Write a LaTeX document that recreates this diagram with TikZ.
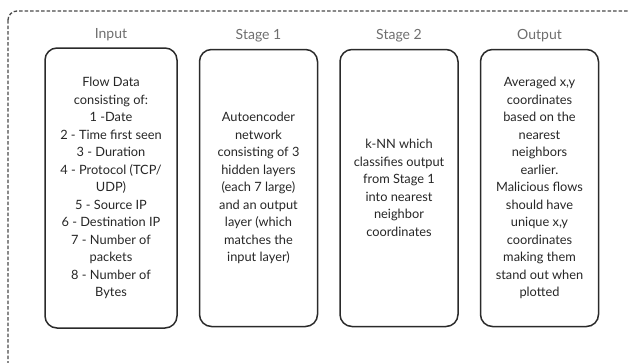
\documentclass[tikz,border=0pt]{standalone}
\usepackage{fontspec}
\setmainfont{Lato}
\usepackage{tikz}
\usetikzlibrary{positioning}

\definecolor{boxline}{HTML}{2A2A2A}
\definecolor{boxtext}{HTML}{262626}
\definecolor{headtext}{HTML}{6E6E6E}
\definecolor{frameline}{HTML}{4A4A4A}

\begin{document}
\begin{tikzpicture}[
                stagebox/.style={draw=boxline, line width=1.5pt, rounded corners=12pt,
                               minimum width=118pt, minimum height=277pt, align=center,
                               text=boxtext, inner sep=2pt,
                               font=\fontsize{12.8}{17.5}\selectfont},
                header/.style={text=headtext, font=\fontsize{14}{16}\selectfont},
                node distance=21pt]

                % fixed page size like the reference
                \useasboundingbox (0pt,0pt) rectangle (629pt,-362pt);

                % dashed outer frame, cut off at the right and bottom
                \draw[frameline, line width=1.3pt, dash pattern=on 3.5pt off 2pt, rounded corners=9pt]
                    (8pt,-11pt) rectangle (650pt,-385pt);

                % the four stage boxes
                \node[stagebox, minimum width=132pt, minimum height=280pt] (input) at (111pt,-188pt)
                    {Flow Data\\consisting of:\\1 -Date\\2 - Time first seen\\3 - Duration\\
                     4 - Protocol (TCP/\\UDP)\\5 - Source IP\\6 - Destination IP\\
                     7 - Number of\\packets\\8 - Number of\\Bytes};
                \node[stagebox, right=of input] (stage1)
                    {Autoencoder\\network\\consisting of 3\\hidden layers\\(each 7 large)\\
                     and an output\\layer (which\\matches the\\input layer)};
                \node[stagebox, right=of stage1] (stage2)
                    {k-NN which\\classifies output\\from Stage 1\\into nearest\\neighbor\\coordinates};
                \node[stagebox, right=of stage2] (output)
                    {Averaged x,y\\coordinates\\based on the\\nearest\\neighbors\\earlier.\\
                     Malicious flows\\should have\\unique x,y\\coordinates\\making them\\
                     stand out when\\plotted};

                % column titles
                \node[header, above=3pt of input] (inputhead) {Input};
                \node[header, above=3pt of stage1.north, anchor=south] (stage1head) {Stage 1};
                \node[header, above=3pt of stage2.north, anchor=south] (stage2head) {Stage 2};
                \node[header, above=3pt of output.north, anchor=south] (outputhead) {Output};
\end{tikzpicture}
\end{document}
